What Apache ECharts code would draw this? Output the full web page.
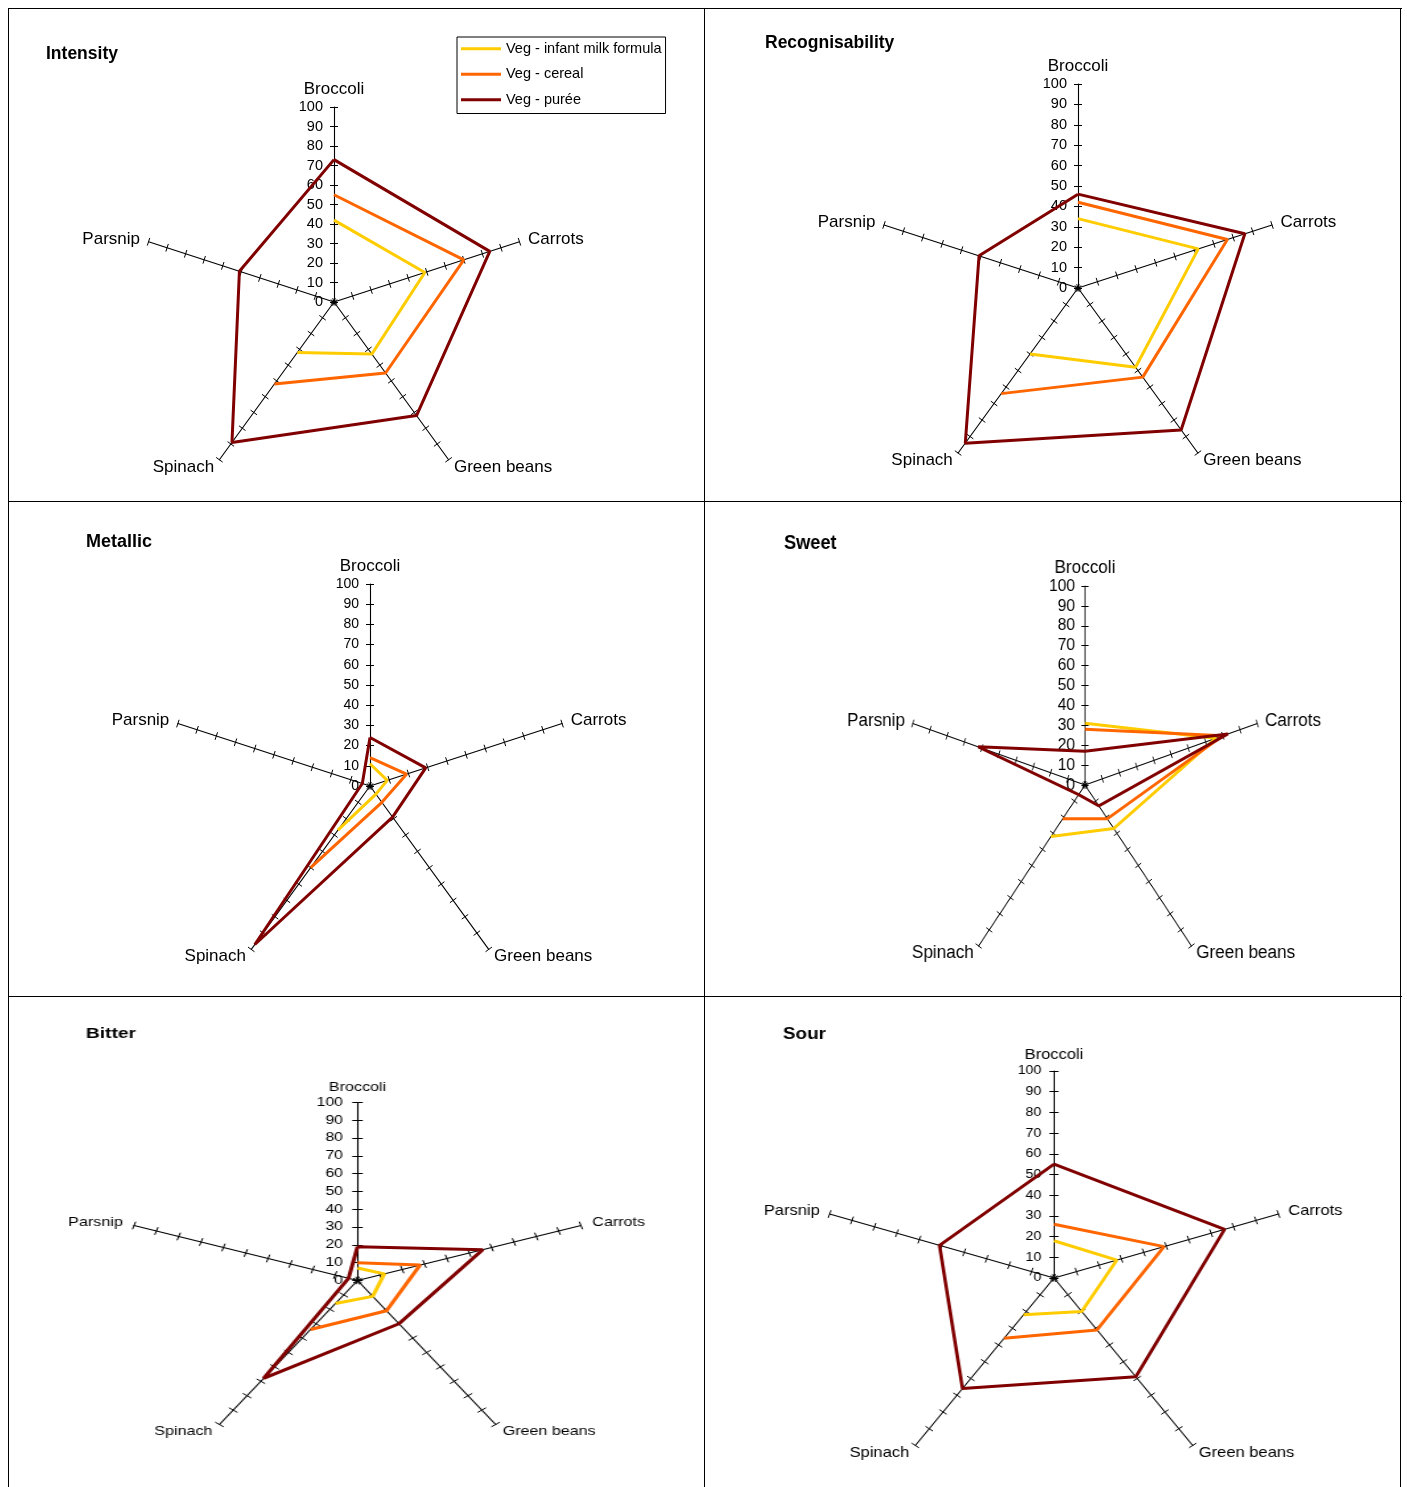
<!DOCTYPE html>
<html>
<head>
<meta charset="utf-8">
<title>Vegetable sensory profiles</title>
<script src="https://cdn.jsdelivr.net/npm/echarts@6/dist/echarts.min.js"></script>
<style>
  body { margin: 0; background: #fff; }
  #page { position: relative; width: 1407px; height: 1487px; overflow: hidden; background: #fff; }
  .cell { position: absolute; overflow: hidden; }
  .chart { position: absolute; left: 0; top: 0; transform-origin: 0 0; }
  .rule { position: absolute; background: #000; z-index: 5; }
</style>
</head>
<body>
<div id="page"></div>
<script>
// axes, read clockwise from the top
const categories = ['Broccoli', 'Carrots', 'Green beans', 'Spinach', 'Parsnip']
const seriesNames = ['Veg - infant milk formula', 'Veg - cereal', 'Veg - purée']
const tickLabels = [0, 10, 20, 30, 40, 50, 60, 70, 80, 90, 100]

// null = no value (line breaks there)
const intensityFormula = [42, 49, 33, 32, null]
const intensityCereal = [55, 70, 45, 52, null]
const intensityPuree = [73, 84, 72, 89, 51]

const recogFormula = [34, 62, 48, 40, null]
const recogCereal = [42, 77, 54, 64, null]
const recogPuree = [46, 86, 86, 94, 51]

const metallicFormula = [11, 9, 5, 27, null]
const metallicCereal = [14, 19, 10, 50, null]
const metallicPuree = [24, 29, 19, 97, 4]

const sweetFormula = [31, 76, 27, 32, null]
const sweetCereal = [28, 80, 21, 21, null]
const sweetPuree = [17, 83, 13, 6, 62]

const bitterFormula = [7, 12, 11, 16, null]
const bitterCereal = [10, 28, 21, 34, null]
const bitterPuree = [19, 56, 30, 68, 4]

const sourFormula = [18, 28, 20, 22, null]
const sourCereal = [26, 49, 31, 36, null]
const sourPuree = [55, 76, 59, 66, 51]

const colors = ['#FFCC00', '#FF6600', '#800000']
const font = '"Liberation Sans", Arial, sans-serif'

// k = horizontal stretch of the panel in the picture
const panels = [
    { title: 'Intensity', data: [intensityFormula, intensityCereal, intensityPuree],
      cell: [10, 10, 694, 491], k: 1, cx: 334, cy: 302, r: 195,
      titleX: 46, titleY: 56, titleSize: 17.5, nameSize: 17, tickSize: 14.5, legend: true },
    { title: 'Recognisability', data: [recogFormula, recogCereal, recogPuree],
      cell: [706, 10, 694, 491], k: 1, cx: 1078, cy: 288, r: 204,
      titleX: 765, titleY: 45, titleSize: 17.5, nameSize: 17, tickSize: 14.5 },
    { title: 'Metallic', data: [metallicFormula, metallicCereal, metallicPuree],
      cell: [10, 503, 694, 492], k: 1, cx: 370, cy: 786, r: 202,
      titleX: 86, titleY: 544, titleSize: 18, nameSize: 17, tickSize: 14 },
    { title: 'Sweet', data: [sweetFormula, sweetCereal, sweetPuree],
      cell: [706, 503, 694, 492], k: 0.91, cx: 1085, cy: 785, r: 199,
      titleX: 784, titleY: 545, titleSize: 20, nameSize: 18.8, tickSize: 17 },
    { title: 'Bitter', data: [bitterFormula, bitterCereal, bitterPuree],
      cell: [10, 998, 694, 489], k: 1.32, cx: 357.5, cy: 1280.5, r: 178,
      titleX: 86, titleY: 1035, titleSize: 14.5, nameSize: 12.2, tickSize: 12 },
    { title: 'Sour', data: [sourFormula, sourCereal, sourPuree],
      cell: [706, 998, 694, 489], k: 1.14, cx: 1054, cy: 1278, r: 207,
      titleX: 783, titleY: 1036, titleSize: 16.5, nameSize: 14.5, tickSize: 12.5 }
]

const page = document.getElementById('page')

function rule(x, y, w, h) {
    const d = document.createElement('div')
    d.className = 'rule'
    d.style.cssText = `left:${x}px;top:${y}px;width:${w}px;height:${h}px`
    page.appendChild(d)
}
rule(7.5, 7.5, 1394, 1.5)
rule(7.5, 7.5, 1.5, 1480)
rule(1399.5, 7.5, 1.5, 1480)
rule(703.5, 7.5, 1.5, 1480)
rule(7.5, 500.5, 1394, 1.5)
rule(7.5, 995.5, 1394, 1.5)

// radar draws counter-clockwise, so feed it the axes in reverse turning order
const ccwOrder = [0, 4, 3, 2, 1]

function buildOption(p) {
    const cx = (p.cx - p.cell[0]) / p.k
    const cy = p.cy - p.cell[1]
    const axisMax = tickLabels[tickLabels.length - 1]
    const indicator = ccwOrder.map((ci, j) => ({
        name: categories[ci], min: tickLabels[0], max: axisMax,
        axisLabel: { show: j === 0 }
    }))
    const radarBase = {
        center: [cx, cy],
        radius: p.r,
        startAngle: 90,
        splitNumber: tickLabels.length - 1,
        indicator: indicator,
        splitLine: { show: false },
        splitArea: { show: false }
    }
    const radars = [
        Object.assign({}, radarBase, {
            nameGap: 9,
            axisName: { color: '#000', fontSize: p.nameSize, fontFamily: font },
            axisLine: { lineStyle: { color: '#000', width: 1.1 } },
            axisTick: { show: true, length: 4, lineStyle: { color: '#000', width: 1 } },
            axisLabel: { show: false, color: '#000', fontSize: p.tickSize, fontFamily: font, margin: 11 }
        }),
        // second copy only for the other half of the cross ticks
        Object.assign({}, radarBase, {
            indicator: indicator.map(it => ({ name: it.name, min: it.min, max: it.max })),
            axisName: { show: false },
            axisLine: { show: false },
            axisTick: { show: true, length: -4, lineStyle: { color: '#000', width: 1 } },
            axisLabel: { show: false }
        })
    ]

    const series = p.data.map((vals, si) => {
        const pts = vals.map((v, i) => [v == null ? '-' : v, i])
        pts.push([vals[0] == null ? '-' : vals[0], categories.length])
        return {
            name: seriesNames[si],
            type: 'line',
            coordinateSystem: 'polar',
            data: pts,
            symbol: 'none',
            connectNulls: false,
            color: colors[si],
            lineStyle: { color: colors[si], width: 3 },
            animation: false,
            z: 3 + si
        }
    })

    const option = {
        animation: false,
        backgroundColor: 'transparent',
        title: {
            text: p.title,
            left: (p.titleX - p.cell[0]) / p.k,
            top: p.titleY - p.cell[1] - p.titleSize * 0.6,
            padding: 0,
            textStyle: { fontSize: p.titleSize, fontWeight: 'bold', color: '#000', fontFamily: font }
        },
        radar: radars,
        polar: { center: [cx, cy], radius: p.r },
        angleAxis: { type: 'value', min: 0, max: categories.length, startAngle: 90, clockwise: true, show: false },
        radiusAxis: { type: 'value', min: tickLabels[0], max: axisMax, show: false },
        series: series
    }
    if (p.legend) {
        option.legend = {
            data: seriesNames,
            orient: 'vertical',
            left: 447,
            top: 27,
            icon: 'rect',
            itemWidth: 40,
            itemHeight: 3,
            itemGap: 10,
            padding: [4, 4, 6, 4],
            borderColor: '#000',
            borderWidth: 1,
            selectedMode: false,
            textStyle: { color: '#000', fontSize: 14.5, lineHeight: 15.5, fontFamily: font }
        }
    }
    return option
}

panels.forEach(p => {
    const cell = document.createElement('div')
    cell.className = 'cell'
    cell.style.cssText = `left:${p.cell[0]}px;top:${p.cell[1]}px;width:${p.cell[2]}px;height:${p.cell[3]}px`
    const box = document.createElement('div')
    box.className = 'chart'
    box.style.width = (p.cell[2] / p.k) + 'px'
    box.style.height = p.cell[3] + 'px'
    box.style.transform = `scaleX(${p.k})`
    cell.appendChild(box)
    page.appendChild(cell)
    const chart = echarts.init(box)
    chart.setOption(buildOption(p))
})
</script>
</body>
</html>
